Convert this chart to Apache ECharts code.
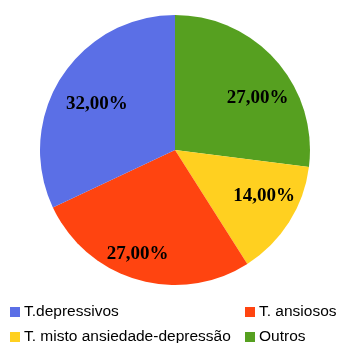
<!DOCTYPE html>
<html>
<head>
<meta charset="utf-8">
<script src="https://cdn.jsdelivr.net/npm/echarts@6/dist/echarts.min.js"></script>
<style>
  html, body { margin: 0; padding: 0; background: #fff; }
  #chart { width: 341px; height: 343px; }
</style>
</head>
<body>
<div id="chart"></div>
<script>
// clockwise from 12 o'clock
const categories = ["Outros", "T. misto ansiedade-depressão", "T. ansiosos", "T.depressivos"];
const values = [27, 14, 27, 32];
const colors = ["#56A020", "#FFD020", "#FF4410", "#5B6FE6"];
const legendLeft = ["T.depressivos", "T. misto ansiedade-depressão"];
const legendRight = ["T. ansiosos", "Outros"];
// small nudges of the value labels, like the original layout
const labelOffsets = [[6, 16], [3, -9], [-9, 6], [8, 9]];

const pieData = categories.map((name, i) => ({
  name: name,
  value: values[i],
  itemStyle: { color: colors[i] }
}));

const chart = echarts.init(document.getElementById("chart"));

const legendBase = {
  orient: "vertical",
  top: 304,
  height: 60,
  width: 240,
  itemWidth: 10,
  itemHeight: 10,
  itemGap: 9,
  icon: "rect",
  padding: 0,
  textStyle: {
    fontFamily: "Liberation Sans",
    fontSize: 15.5,
    lineHeight: 14,
    color: "#000",
    padding: [0, 0, 0, -1]
  }
};

chart.setOption({
  animation: false,
  legend: [
    Object.assign({}, legendBase, { left: 10, data: legendLeft }),
    Object.assign({}, legendBase, { left: 245, width: 90, data: legendRight })
  ],
  series: [
    {
      type: "pie",
      center: [175, 150],
      radius: [0, 135],
      startAngle: 90,
      clockwise: true,
      data: pieData,
      label: { show: false },
      labelLine: { show: false },
      emphasis: { disabled: true }
    },
    {
      // transparent ring only used to place the labels
      type: "pie",
      center: [175, 150],
      radius: [78, 120],
      startAngle: 90,
      clockwise: true,
      silent: true,
      legendHoverLink: false,
      data: categories.map((name, i) => ({
        name: name,
        value: values[i],
        itemStyle: { color: "rgba(0,0,0,0)" },
        label: { offset: labelOffsets[i] }
      })),
      label: {
        show: true,
        position: "inside",
        fontFamily: "Liberation Serif",
        fontWeight: "bold",
        fontSize: 19,
        color: "#000",
        formatter: p => p.value.toFixed(2).replace(".", ",") + "%"
      },
      labelLine: { show: false },
      emphasis: { disabled: true }
    }
  ]
});
</script>
</body>
</html>
